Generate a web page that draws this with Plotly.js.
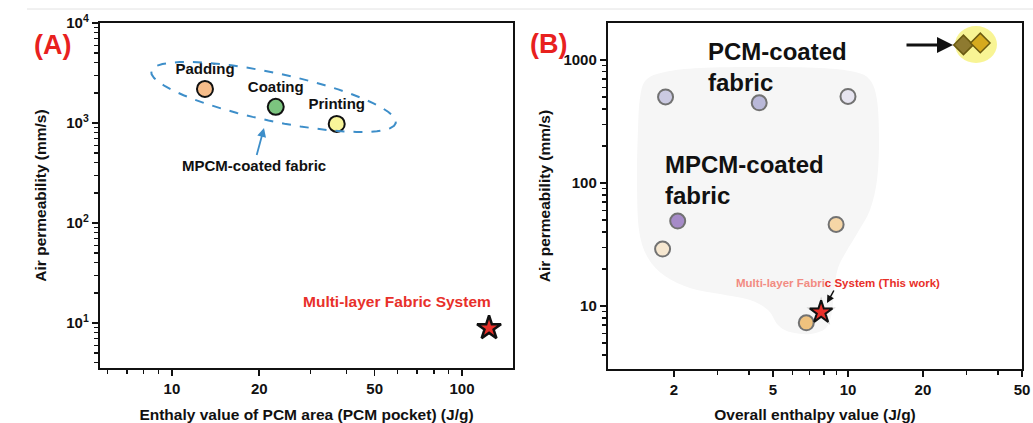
<!DOCTYPE html>
<html>
<head>
<meta charset="utf-8">
<script src="https://cdn.plot.ly/plotly-3.0.1.min.js"></script>
<style>html,body{margin:0;padding:0;background:#fff;}#chart{width:1033px;height:423px;}</style>
</head>
<body>
<div id="chart"></div>
<script>
// ---------- DATA ----------
// Panel A
const methodsA = ['Padding', 'Coating', 'Printing'];
const enthalpyA = [13.0, 22.8, 37.0];
const airA = [2190, 1450, 980];
const systemA_x = [124];
const systemA_y = [8.9];
const systemLabelA = 'Multi-layer Fabric System';
const ticksAx = [10, 20, 50, 100];
const ticksAy = [10, 100, 1000, 10000];
const tickTextAy = ['10<sup>1</sup>', '10<sup>2</sup>', '10<sup>3</sup>', '10<sup>4</sup>'];

// Panel B
const enthalpyB = [1.85, 4.4, 10.0, 2.07, 1.80, 8.96, 6.8];
const airB = [500, 448, 505, 49, 29, 46, 7.3];
const pcmB_x = [29.1, 34.0];
const pcmB_y = [1325, 1374];
const systemB_x = [7.8];
const systemB_y = [8.9];
const ticksBx = [2, 5, 10, 20, 50];
const ticksBy = [10, 100, 1000];

// ---------- STYLES ----------
const colorsA = ['#f7bd8a', '#7cc47f', '#f8f59a'];
const colorsB = ['#cbcae2', '#b9b8d8', '#e6e4f0', '#a68bc8', '#f6e7d0', '#f6d6a6', '#f0c27e'];
const pcmColors = ['#8e7a30', '#d6aa1e'];
const FONT = 'Arial, "Liberation Sans", Helvetica, sans-serif';
const W = 1033, H = 423;
const px = v => v / W;
const py = v => 1 - v / H;

// smooth closed path (Catmull-Rom -> Bezier) in pixel space, converted to paper coords
function smoothPath(pts) {
  const n = pts.length;
  let d = 'M ' + px(pts[0][0]) + ',' + py(pts[0][1]);
  for (let i = 0; i < n; i++) {
    const p0 = pts[(i - 1 + n) % n], p1 = pts[i], p2 = pts[(i + 1) % n], p3 = pts[(i + 2) % n];
    const c1 = [p1[0] + (p2[0] - p0[0]) / 6, p1[1] + (p2[1] - p0[1]) / 6];
    const c2 = [p2[0] - (p3[0] - p1[0]) / 6, p2[1] - (p3[1] - p1[1]) / 6];
    d += ' C ' + px(c1[0]) + ',' + py(c1[1]) + ' ' + px(c2[0]) + ',' + py(c2[1]) + ' ' + px(p2[0]) + ',' + py(p2[1]);
  }
  return d + ' Z';
}
function ellipsePath(cx, cy, a, b, deg) {
  const t = deg * Math.PI / 180;
  const pts = [];
  for (let k = 0; k < 48; k++) {
    const u = 2 * Math.PI * k / 48;
    const ex = a * Math.cos(u), ey = b * Math.sin(u);
    pts.push([cx + ex * Math.cos(t) - ey * Math.sin(t), cy + ex * Math.sin(t) + ey * Math.cos(t)]);
  }
  let d = '';
  pts.forEach((p, i) => { d += (i ? ' L ' : 'M ') + px(p[0]) + ',' + py(p[1]); });
  return d + ' Z';
}

const blob = [[646,80],[665,72],[700,68],[760,67],[820,68],[855,72],[870,80],[877,100],[879,140],[877,180],[870,210],[858,232],[846,252],[838,268],[834,290],[832,312],[826,328],[810,334],[790,332],[778,325],[768,310],[750,300],[720,294],[690,288],[665,276],[648,258],[639,230],[637,180],[638,130],[640,98]];

// ---------- TRACES ----------
const traces = [
  {
    x: enthalpyA, y: airA, text: methodsA, xaxis: 'x', yaxis: 'y',
    type: 'scatter', mode: 'markers+text', textposition: 'top center',
    textfont: {family: FONT, size: 15, color: '#111', weight: 'bold'},
    marker: {size: 16, color: colorsA, line: {color: '#111', width: 2}},
    showlegend: false, cliponaxis: false
  },
  {
    x: systemA_x, y: systemA_y, xaxis: 'x', yaxis: 'y', type: 'scatter', mode: 'markers',
    marker: {symbol: 'star', size: 18, color: '#e8302a', line: {color: '#111', width: 2.5}},
    showlegend: false, cliponaxis: false
  },
  {
    x: enthalpyB, y: airB, xaxis: 'x2', yaxis: 'y2', type: 'scatter', mode: 'markers',
    marker: {size: 15, color: colorsB, line: {color: '#727272', width: 2}},
    showlegend: false
  },
  {
    x: pcmB_x, y: pcmB_y, xaxis: 'x2', yaxis: 'y2', type: 'scatter', mode: 'markers',
    marker: {symbol: 'diamond', size: 15, color: pcmColors, line: {color: '#6b5a10', width: 1.5}},
    showlegend: false
  },
  {
    x: systemB_x, y: systemB_y, xaxis: 'x2', yaxis: 'y2', type: 'scatter', mode: 'markers',
    marker: {symbol: 'star', size: 22, color: 'rgba(120,120,120,0.35)', line: {width: 0}},
    showlegend: false, hoverinfo: 'skip'
  },
  {
    x: systemB_x, y: systemB_y, xaxis: 'x2', yaxis: 'y2', type: 'scatter', mode: 'markers',
    marker: {symbol: 'star', size: 17, color: '#e8302a', line: {color: '#111', width: 2}},
    showlegend: false
  }
];

// ---------- AXES ----------
const tickfont = {family: FONT, size: 15, color: '#111', weight: 'bold'};
const titlefont = {family: FONT, size: 15.5, color: '#111', weight: 'bold'};
function axisBase() {
  return {
    type: 'log', showline: true, linecolor: '#111', linewidth: 2.2, mirror: true,
    ticks: 'outside', ticklen: 6, tickwidth: 1.6, tickcolor: '#111',
    showgrid: false, zeroline: false, tickfont: tickfont, fixedrange: true,
    minor: {dtick: 'D1', ticks: 'outside', ticklen: 4, tickwidth: 1.3, tickcolor: '#111', showgrid: false}
  };
}

const layout = {
  width: W, height: H,
  margin: {l: 0, r: 0, t: 0, b: 0},
  paper_bgcolor: '#fff', plot_bgcolor: 'rgba(0,0,0,0)',
  font: {family: FONT},
  showlegend: false,
  xaxis: Object.assign(axisBase(), {
    domain: [px(100), px(513)], range: [0.752, 2.176], anchor: 'y',
    tickmode: 'array', tickvals: ticksAx, ticktext: ticksAx.map(String),
    title: {text: 'Enthaly value of PCM area (PCM pocket) (J/g)', font: titlefont, standoff: 14}
  }),
  yaxis: Object.assign(axisBase(), {
    domain: [py(368), py(23)], range: [0.55, 4], anchor: 'x',
    tickmode: 'array', tickvals: ticksAy, ticktext: tickTextAy,
    title: {text: 'Air permeability (mm/s)', font: titlefont, standoff: 16}
  }),
  xaxis2: Object.assign(axisBase(), {
    domain: [px(608), px(1022)], range: [0.036, 1.699], anchor: 'y2',
    tickmode: 'array', tickvals: ticksBx, ticktext: ticksBx.map(String),
    title: {text: 'Overall enthalpy value (J/g)', font: titlefont, standoff: 14}
  }),
  yaxis2: Object.assign(axisBase(), {
    domain: [py(369), py(23)], range: [0.488, 3.30], anchor: 'x2',
    tickmode: 'array', tickvals: ticksBy, ticktext: ticksBy.map(String),
    title: {text: 'Air permeability (mm/s)', font: titlefont, standoff: 9}
  }),
  shapes: [
    {type: 'line', xref: 'paper', yref: 'paper', x0: px(27), x1: 1, y0: py(9), y1: py(9),
     line: {color: '#e2e2e2', width: 1}},
    {type: 'path', xref: 'paper', yref: 'paper', layer: 'below', path: smoothPath(blob),
     fillcolor: '#f6f6f6', line: {width: 0}},
    {type: 'circle', xref: 'paper', yref: 'paper', layer: 'below',
     x0: px(955), x1: px(997), y0: py(63), y1: py(26),
     fillcolor: '#f7f388', opacity: 0.9, line: {width: 0}},
    {type: 'path', xref: 'paper', yref: 'paper', path: ellipsePath(273.5, 97, 125, 24, 12),
     line: {color: '#3d8ec9', width: 2, dash: 'dash'}, fillcolor: 'rgba(0,0,0,0)'}
  ],
  annotations: [
    {text: '(A)', xref: 'paper', yref: 'paper', x: px(32), y: py(28), showarrow: false,
     font: {family: FONT, size: 27, color: '#e8211e', weight: 'bold'}},
    {text: '(B)', xref: 'paper', yref: 'paper', x: px(548), y: py(27), showarrow: false,
     font: {family: FONT, size: 27, color: '#e8211e', weight: 'bold'}},
    {text: 'MPCM-coated fabric', xref: 'paper', yref: 'paper', x: px(264), y: py(128),
     ax: -10, ay: 37, showarrow: true, arrowhead: 2, arrowsize: 1, arrowwidth: 1.8, arrowcolor: '#3d8ec9',
     font: {family: FONT, size: 15, color: '#111', weight: 'bold'}},
    {text: systemLabelA, xref: 'paper', yref: 'paper', x: px(397), y: py(312), showarrow: false,
     font: {family: FONT, size: 15.5, color: '#e8302a', weight: 'bold'}},
    {text: 'PCM-coated<br>fabric', xref: 'paper', yref: 'paper', x: px(706), y: py(67),
     xanchor: 'left', yanchor: 'middle', align: 'left', showarrow: false,
     font: {family: FONT, size: 24, color: '#111', weight: 'bold'}},
    {text: 'MPCM-coated<br>fabric', xref: 'paper', yref: 'paper', x: px(663), y: py(180),
     xanchor: 'left', yanchor: 'middle', align: 'left', showarrow: false,
     font: {family: FONT, size: 24, color: '#111', weight: 'bold'}},
    {text: '<span style="color:#f28b82">Multi-layer Fabri</span>c System (This work)',
     xref: 'paper', yref: 'paper', x: px(827), y: py(303), ax: 11, ay: -20,
     showarrow: true, arrowhead: 2, arrowsize: 1, arrowwidth: 1.5, arrowcolor: '#111',
     font: {family: FONT, size: 11.5, color: '#e8302a', weight: 'bold'}},
    {text: ' ', xref: 'paper', yref: 'paper', x: px(953), y: py(45), ax: -48, ay: 0,
     showarrow: true, arrowhead: 2, arrowsize: 1, arrowwidth: 3.2, arrowcolor: '#111',
     font: {size: 1}}
  ]
};

Plotly.newPlot('chart', traces, layout, {displayModeBar: false, staticPlot: true});
</script>
</body>
</html>
